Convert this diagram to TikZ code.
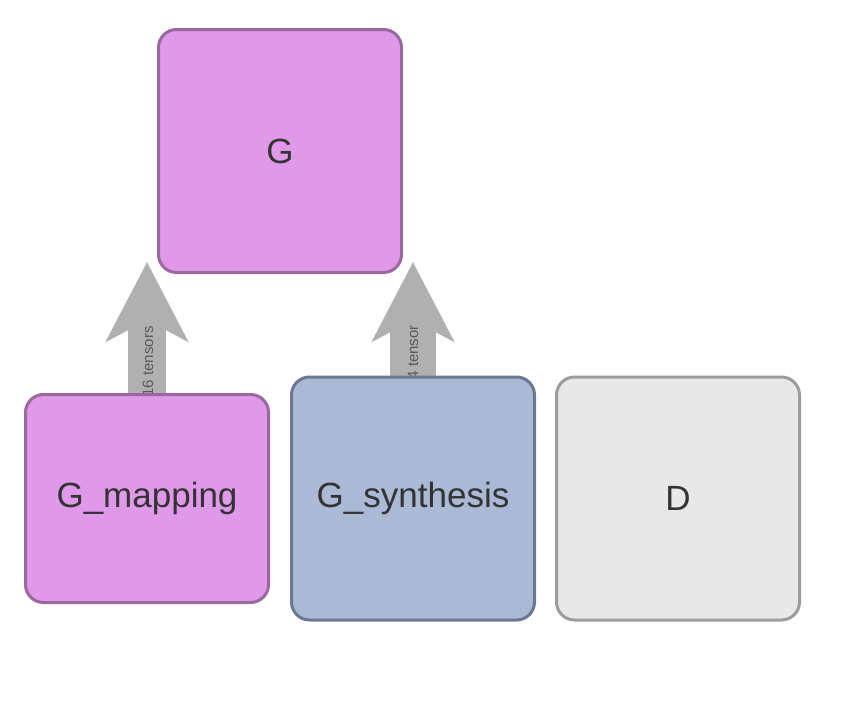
\documentclass[tikz,border=0pt]{standalone}
\usepackage{fontspec}
\setmainfont{Liberation Sans}
\usepackage{xcolor}
\usepackage{tikz}
\usetikzlibrary{positioning,arrows.meta}

\definecolor{gfill}{HTML}{E098E8}
\definecolor{gline}{HTML}{9A679E}
\definecolor{sfill}{HTML}{AAB9D6}
\definecolor{sline}{HTML}{6C7794}
\definecolor{dfill}{HTML}{E8E8E8}
\definecolor{dline}{HTML}{9C9C9C}
\definecolor{flow}{HTML}{B0B0B0}
\definecolor{ink}{HTML}{333333}

\tikzset{
  block/.style={rounded corners=18pt, line width=3pt, minimum width=243pt,
    minimum height=243pt, text=ink, font=\fontsize{35}{42}\selectfont},
  gen/.style={block, draw=gline, fill=gfill},
  syn/.style={block, draw=sline, fill=sfill},
  disc/.style={block, draw=dline, fill=dfill},
  feed/.style={draw=flow, line width=38pt,
    -{Stealth[length=79pt, width=81pt, inset=21pt]}},
  count/.style={rotate=90, anchor=west, text=black!65, font=\fontsize{15}{18}\selectfont}
}

\begin{document}
\begin{tikzpicture}[x=1pt, y=-1pt]
\useasboundingbox (0,0) rectangle (860,704);

% Arrow ends
\coordinate (tipmap) at (147,262);
\coordinate (tipsyn) at (413,262);
\coordinate (basemap) at (147,393);
\coordinate (basesyn) at (413,376);

% Arrows (under the blocks)
\draw[feed] (basemap) -- (tipmap);
\draw[feed, line width=46pt] (basesyn) -- (tipsyn);
\node[count] (lblmap) at (148,400) {16 tensors};
\node[count] (lblsyn) at (413,383) {4 tensor};

% Blocks
\node[gen] (G) at (280,151) {G};
\node[gen, minimum height=208pt] (Gmap) at (147,498.5) {G\_mapping};
\node[syn] (Gsyn) at (413,498.5) {G\_synthesis};
\node[disc] (D) at (678,498.5) {D};
\end{tikzpicture}
\end{document}
